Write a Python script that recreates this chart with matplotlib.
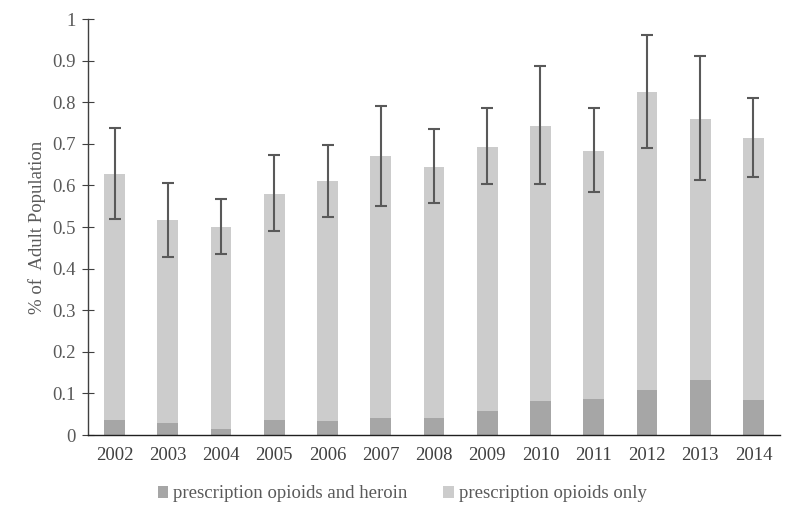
import matplotlib
matplotlib.use("Agg")
import matplotlib.pyplot as plt
import numpy as np

years = ["2002", "2003", "2004", "2005", "2006", "2007", "2008",
         "2009", "2010", "2011", "2012", "2013", "2014"]
heroin = [0.036, 0.028, 0.014, 0.035, 0.033, 0.042, 0.040,
          0.057, 0.082, 0.087, 0.107, 0.132, 0.084]
total = [0.628, 0.516, 0.500, 0.580, 0.610, 0.670, 0.645,
         0.693, 0.743, 0.683, 0.824, 0.760, 0.714]
err_low = [0.520, 0.427, 0.435, 0.490, 0.525, 0.551, 0.557,
           0.603, 0.603, 0.583, 0.690, 0.612, 0.619]
err_high = [0.737, 0.606, 0.567, 0.672, 0.697, 0.791, 0.735,
            0.785, 0.886, 0.785, 0.961, 0.912, 0.811]

plt.rcParams['font.family'] = ['Liberation Serif', 'DejaVu Serif']

fig = plt.figure(figsize=(8, 5.2), dpi=100)
ax = fig.add_axes([88/800, 1-435/520, (780-88)/800, (435-19)/520])

x = np.arange(len(years))
only = [t - h for t, h in zip(total, heroin)]
w = 0.39
ax.bar(x, heroin, w, color='#a6a6a6', label='prescription opioids and heroin', zorder=2)
ax.bar(x, only, w, bottom=heroin, color='#cccccc', label='prescription opioids only', zorder=2)
yerr = [[t - l for t, l in zip(total, err_low)], [h - t for t, h in zip(total, err_high)]]
ax.errorbar(x, total, yerr=yerr, fmt='none', ecolor='#595959', elinewidth=1.5,
            capsize=4, capthick=1.5, zorder=3)

ax.set_xlim(-0.5, len(years) - 0.5)
ax.set_ylim(0, 1)
ax.set_yticks(np.arange(0, 1.01, 0.1))
ax.set_yticklabels(['0', '0.1', '0.2', '0.3', '0.4', '0.5', '0.6', '0.7', '0.8', '0.9', '1'])
ax.set_xticks(x)
ax.set_xticklabels(years)
for s in ['top', 'right']:
    ax.spines[s].set_visible(False)
ax.spines['left'].set_color('#404040')
ax.spines['bottom'].set_color('#202020')
ax.spines['left'].set_linewidth(1.0)
ax.spines['bottom'].set_linewidth(1.0)
ax.tick_params(axis='y', direction='inout', length=8, color='#404040',
               labelcolor='#595959', labelsize=13.5, pad=5)
ax.tick_params(axis='x', length=0, labelcolor='#404040', labelsize=13.5, pad=9)
ax.set_ylabel('% of  Adult Population', fontsize=13.5, color='#595959', labelpad=4)

handles, labels = ax.get_legend_handles_labels()
fig.legend(handles, labels, loc='center', bbox_to_anchor=(0.503, 1 - 494/520), ncol=2,
           frameon=False, fontsize=13.5, labelcolor='#595959', handlelength=0.55,
           handleheight=0.55, columnspacing=1.9, handletextpad=0.3)

fig.savefig('out.png', dpi=100)
